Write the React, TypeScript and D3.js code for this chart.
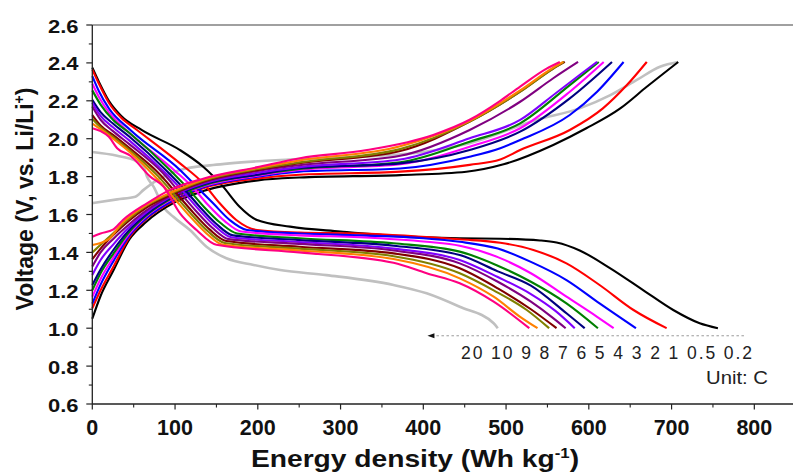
import React from "react";
import * as d3 from "d3";

// ---- data (x: Wh/kg, y: V) ----
const rates = ["0.2", "0.5", "1", "2", "3", "4", "5", "6", "7", "8", "9", "10", "20"];
const colors = ["#000000", "#ff0000", "#0000ff", "#ff00ff", "#008000", "#000080", "#8000ff", "#800080", "#800000", "#808000", "#ff8000", "#ff0080", "#c0c0c0"];

const dis02 = [[0,2.375],[8,2.3],[20,2.2],[35,2.12],[60,2.045],[106,1.94],[134,1.852],[158,1.747],[178,1.641],[199,1.571],[239,1.536],[300,1.51],[364,1.487],[444,1.474],[493,1.472],[541,1.463],[561,1.452],[589,1.41],[626,1.316],[666,1.2],[702,1.096],[734,1.026],[756,1.0]];
const dis05 = [[0,2.365],[8,2.29],[20,2.19],[35,2.11],[54,2.046],[106,1.87],[134,1.765],[154,1.659],[174,1.571],[199,1.518],[250,1.505],[323,1.5],[444,1.469],[493,1.451],[533,1.413],[573,1.342],[613,1.228],[654,1.096],[694,1.0]];
const dis1 = [[0,2.33],[8,2.25],[20,2.16],[46,2.046],[106,1.835],[126,1.747],[146,1.659],[166,1.571],[187,1.518],[250,1.5],[323,1.49],[400,1.475],[444,1.456],[490,1.42],[530,1.35],[573,1.254],[613,1.131],[657,1.0]];
const dis2 = [[0,2.29],[8,2.22],[20,2.14],[40,2.05],[100,1.83],[120,1.75],[140,1.65],[160,1.565],[180,1.51],[250,1.49],[323,1.48],[404,1.456],[444,1.435],[490,1.375],[530,1.29],[573,1.166],[610,1.06],[630,1.0]];
const dis3 = [[0,2.255],[10,2.18],[25,2.1],[45,2.03],[95,1.83],[115,1.74],[135,1.64],[155,1.555],[175,1.5],[250,1.475],[364,1.448],[444,1.404],[490,1.33],[530,1.245],[573,1.131],[611,1.0]];
const dis4 = [[0,2.205],[10,2.14],[25,2.08],[45,2.01],[90,1.83],[110,1.74],[130,1.64],[150,1.55],[170,1.49],[250,1.465],[364,1.435],[444,1.386],[490,1.3],[530,1.225],[573,1.079],[595,1.0]];
const dis5 = [[0,2.19],[10,2.12],[25,2.06],[45,1.99],[88,1.82],[108,1.73],[128,1.63],[148,1.54],[168,1.48],[250,1.455],[364,1.42],[444,1.36],[490,1.27],[530,1.18],[560,1.09],[583,1.0]];
const dis6 = [[0,2.17],[10,2.1],[25,2.04],[45,1.97],[85,1.82],[105,1.72],[125,1.62],[145,1.53],[165,1.47],[250,1.445],[364,1.41],[444,1.342],[490,1.245],[530,1.14],[555,1.06],[572,1.0]];
const dis7 = [[0,2.125],[10,2.07],[25,2.02],[45,1.95],[82,1.81],[102,1.71],[122,1.61],[142,1.52],[162,1.46],[250,1.43],[364,1.395],[444,1.316],[490,1.21],[530,1.1],[561,1.0]];
const dis8 = [[0,2.105],[10,2.06],[25,2.01],[45,1.94],[80,1.8],[100,1.7],[120,1.6],[140,1.51],[160,1.45],[250,1.42],[364,1.38],[444,1.29],[485,1.2],[525,1.096],[552,1.0]];
const dis9 = [[0,2.08],[10,2.05],[25,2.0],[45,1.93],[78,1.79],[98,1.69],[118,1.59],[138,1.5],[158,1.44],[250,1.41],[364,1.365],[444,1.263],[485,1.166],[517,1.06],[538,1.0]];
const dis10 = [[0,2.055],[10,2.04],[20,2.01],[30,1.95],[46,1.91],[70,1.8],[86,1.747],[106,1.606],[126,1.518],[150,1.44],[250,1.4],[364,1.345],[404,1.29],[444,1.237],[485,1.14],[528,1.0]];
const dis20 = [[0,1.93],[30,1.91],[54,1.879],[62,1.852],[66,1.8],[74,1.747],[86,1.64],[98,1.588],[118,1.518],[138,1.43],[162,1.369],[195,1.334],[227,1.307],[283,1.28],[364,1.228],[404,1.184],[444,1.113],[485,1.026],[490,1.0]];

const chg02 = [[0,1.05],[10,1.17],[25,1.3],[45,1.47],[65,1.56],[100,1.665],[135,1.725],[200,1.78],[250,1.795],[372,1.808],[452,1.826],[497,1.865],[557,1.967],[597,2.055],[638,2.16],[670,2.274],[708,2.405]];
const chg05 = [[0,1.105],[10,1.2],[25,1.32],[45,1.48],[65,1.575],[100,1.675],[135,1.74],[200,1.79],[250,1.81],[372,1.826],[456,1.862],[493,1.89],[517,1.94],[577,2.046],[617,2.16],[646,2.283],[670,2.405]];
const chg1 = [[0,1.13],[10,1.23],[25,1.35],[45,1.49],[65,1.58],[100,1.68],[135,1.745],[200,1.8],[250,1.826],[372,1.843],[456,1.905],[493,1.95],[517,1.993],[577,2.125],[610,2.248],[642,2.405]];
const chg2 = [[0,1.166],[10,1.26],[25,1.37],[45,1.5],[65,1.59],[100,1.69],[135,1.75],[200,1.805],[250,1.835],[372,1.865],[456,1.958],[517,2.055],[577,2.248],[618,2.405]];
const chg3 = [[0,1.2],[10,1.29],[25,1.39],[45,1.51],[65,1.595],[100,1.695],[135,1.755],[200,1.81],[250,1.84],[372,1.875],[456,1.984],[517,2.081],[577,2.283],[612,2.405]];
const chg4 = [[0,1.228],[10,1.31],[25,1.41],[45,1.52],[65,1.6],[100,1.7],[135,1.76],[200,1.81],[250,1.845],[372,1.87],[456,1.94],[517,2.037],[577,2.213],[628,2.405]];
const chg5 = [[0,1.281],[10,1.36],[25,1.44],[45,1.535],[65,1.61],[100,1.705],[135,1.765],[200,1.82],[250,1.85],[372,1.89],[456,2.002],[517,2.099],[560,2.24],[590,2.34],[610,2.405]];
const chg6 = [[0,1.325],[10,1.4],[25,1.47],[45,1.55],[65,1.62],[100,1.71],[135,1.77],[200,1.83],[250,1.86],[372,1.91],[456,2.046],[517,2.195],[557,2.319],[587,2.405]];
const chg7 = [[0,1.364],[10,1.42],[25,1.49],[45,1.57],[65,1.635],[100,1.715],[135,1.775],[200,1.835],[250,1.87],[372,1.935],[456,2.09],[517,2.248],[557,2.37],[571,2.405]];
const chg8 = [[0,1.4],[10,1.44],[25,1.5],[45,1.58],[65,1.645],[100,1.72],[135,1.78],[200,1.84],[250,1.875],[372,1.945],[456,2.09],[517,2.248],[557,2.37],[570,2.405]];
const chg9 = [[0,1.439],[10,1.45],[20,1.47],[35,1.55],[65,1.65],[100,1.725],[135,1.785],[200,1.845],[250,1.885],[372,1.96],[456,2.095],[517,2.255],[557,2.375],[569,2.405]];
const chg10 = [[0,1.483],[10,1.5],[25,1.52],[37,1.571],[66,1.659],[94,1.73],[135,1.79],[200,1.85],[251,1.897],[332,1.94],[412,2.02],[456,2.1],[493,2.2],[517,2.275],[549,2.37],[565,2.405]];
const chg20 = [[0,1.66],[30,1.68],[52,1.694],[62,1.73],[78,1.78],[106,1.835],[146,1.861],[166,1.87],[227,1.888],[300,1.9],[400,1.93],[456,1.976],[537,2.1],[589,2.16],[626,2.23],[658,2.31],[686,2.38],[708,2.405]];

const discharge = [dis02, dis05, dis1, dis2, dis3, dis4, dis5, dis6, dis7, dis8, dis9, dis10, dis20];
const charge = [chg02, chg05, chg1, chg2, chg3, chg4, chg5, chg6, chg7, chg8, chg9, chg10, chg20];

const xTicks = [0, 100, 200, 300, 400, 500, 600, 700, 800];
const yTicks = [0.6, 0.8, 1.0, 1.2, 1.4, 1.6, 1.8, 2.0, 2.2, 2.4, 2.6];

const W = 793, H = 475;
const FONT = "'Liberation Sans', Arial, sans-serif";

export default function App() {
  const x = d3.scaleLinear().domain([0, 850]).range([92.3, 795.7]);
  const y = d3.scaleLinear().domain([0.6, 2.6]).range([404, 25]);
  const line = d3.line<number[]>().x(d => x(d[0])).y(d => y(d[1])).curve(d3.curveMonotoneX);

  const order = [12, 0, 1, 2, 3, 4, 5, 6, 7, 8, 9, 10, 11];
  const xMinor = d3.range(50, 851, 100);
  const yMinor = d3.range(0.7, 2.6, 0.2);
  const rateText = rates.slice().reverse().join(" ");

  return (
    <svg width={W} height={H} style={{ position: "fixed", left: 0, top: 0, background: "#fff" }} fontFamily={FONT}>
      <rect width={W} height={H} fill="#fff" />
      {/* curves */}
      {order.map(i => (
        <g key={i}>
          <path d={line(charge[i]) || ""} fill="none" stroke={colors[i]} strokeWidth={i === 12 ? 2.6 : 2.1} strokeLinejoin="round" />
          <path d={line(discharge[i]) || ""} fill="none" stroke={colors[i]} strokeWidth={i === 12 ? 2.6 : 2.1} strokeLinejoin="round" />
        </g>
      ))}
      {/* frame */}
      <line x1={x(0)} x2={W} y1={y(2.6)} y2={y(2.6)} stroke="#808080" strokeWidth={1.5} />
      <line x1={x(0)} x2={x(0)} y1={y(2.6)} y2={y(0.6)} stroke="#222" strokeWidth={1.3} />
      <line x1={x(0)} x2={W} y1={y(0.6)} y2={y(0.6)} stroke="#222" strokeWidth={1.3} />
      {/* y ticks */}
      {yTicks.map(t => (
        <g key={"y" + t}>
          <line x1={x(0) - 6} x2={x(0)} y1={y(t)} y2={y(t)} stroke="#222" strokeWidth={1.2} />
          <text transform={`translate(78.5,${y(t) + 7.5}) scale(1,0.86)`} textAnchor="end" fontWeight="bold" fontSize={22} fill="#111">{t.toFixed(1)}</text>
        </g>
      ))}
      {yMinor.map(t => (
        <line key={"ym" + t} x1={x(0) - 3.5} x2={x(0)} y1={y(t)} y2={y(t)} stroke="#222" strokeWidth={1.1} />
      ))}
      {/* x ticks */}
      {xTicks.map(t => (
        <g key={"x" + t}>
          <line x1={x(t)} x2={x(t)} y1={y(0.6)} y2={y(0.6) + 5.5} stroke="#222" strokeWidth={1.2} />
          <text x={x(t)} y={435} textAnchor="middle" fontWeight="bold" fontSize={21.5} fill="#111">{t}</text>
        </g>
      ))}
      {xMinor.map(t => (
        <line key={"xm" + t} x1={x(t)} x2={x(t)} y1={y(0.6)} y2={y(0.6) + 3.5} stroke="#222" strokeWidth={1.1} />
      ))}
      {/* axis titles */}
      <text transform="translate(415,467) scale(1.2,1)" textAnchor="middle" fontWeight="bold" fontSize={23.5} fill="#111">
        Energy density (Wh kg<tspan dy={-9} fontSize={14}>-1</tspan><tspan dy={9}>)</tspan>
      </text>
      <text transform="translate(33,199) rotate(-90)" textAnchor="middle" fontWeight="bold" fontSize={23} fill="#111">
        Voltage (V, vs. Li/Li<tspan dy={-9} fontSize={14}>+</tspan><tspan dy={9}>)</tspan>
      </text>
      {/* rate annotation */}
      <line x1={x(405) + 4} x2={x(790)} y1={y(0.96)} y2={y(0.96)} stroke="#999" strokeWidth={1} strokeDasharray="2.5,2.5" />
      <path d={`M${x(405)},${y(0.96)} l7,-2.5 l0,5 z`} fill="#111" />
      <text x={461} y={358.5} fontSize={17.5} fill="#222" textLength={291} lengthAdjust="spacing">{rateText}</text>
      <text transform="translate(706,383.5) scale(1.16,1)" fontSize={17.5} fill="#222">Unit: C</text>
    </svg>
  );
}
